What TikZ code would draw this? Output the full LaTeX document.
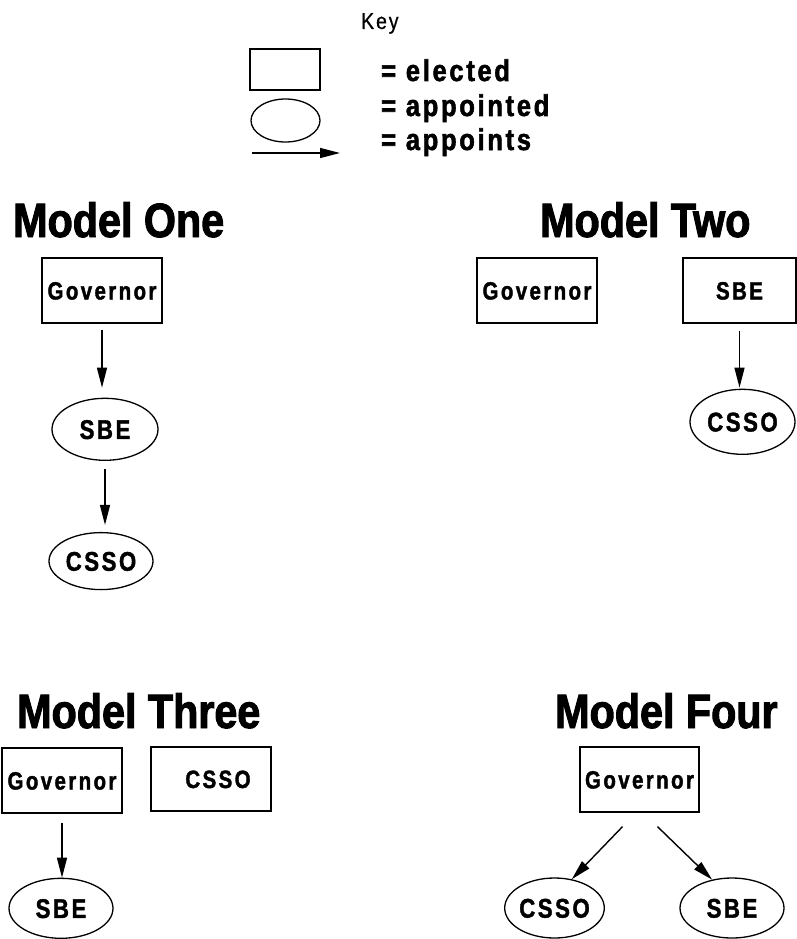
\documentclass[tikz,border=0pt]{standalone}
\usepackage{fontspec}
\setmainfont{Liberation Sans}
\newfontfamily\titlefont{Liberation Sans}[FakeStretch=0.86, FakeBold=2]
\newfontfamily\labelfont{Liberation Sans}[FakeStretch=0.82, FakeBold=1.5, LetterSpace=9.5]
\newfontfamily\keyfont{Liberation Sans}[FakeStretch=0.85, FakeBold=1.8, LetterSpace=9]
\newfontfamily\keyheadfont{Liberation Sans}[FakeStretch=0.85, FakeBold=0.6, LetterSpace=8]
\usepackage{tikz}
\usetikzlibrary{arrows.meta, positioning, shapes.geometric}
\tikzstyle{elected} = [draw, rectangle, line width=1.3pt, inner sep=0pt,
   minimum width=120pt, minimum height=65pt,
   font=\labelfont\bfseries\fontsize{25}{28}\selectfont,
   text height=18pt, text depth=0pt]
\tikzstyle{appointed} = [draw, ellipse, line width=1.3pt, inner sep=0pt,
   minimum width=104pt, minimum height=60pt,
   font=\labelfont\bfseries\fontsize{27}{30}\selectfont,
   text height=19.3pt, text depth=0pt]
\tikzstyle{appoints} = [-{Triangle[length=20pt,width=10pt]}, line width=1.4pt]
\tikzstyle{modelTitle} = [anchor=base west, inner sep=0pt,
   font=\titlefont\bfseries\fontsize{48}{54}\selectfont]
\tikzstyle{keyText} = [anchor=base west, inner sep=0pt,
   font=\keyfont\bfseries\fontsize{30}{33}\selectfont]

\begin{document}
\begin{tikzpicture}[x=1pt, y=-1pt]
  \useasboundingbox (0,0) rectangle (797,939);

  % key
  \node[anchor=base west, inner sep=0pt, font=\keyheadfont\fontsize{23}{25}\selectfont] (keyhead) at (361,29) {Key};
  \node[elected, minimum width=70pt, minimum height=41pt] (keyrect) at (285,69.5) {};
  \node[appointed, minimum width=69pt, minimum height=43pt] (keyoval) at (285.5,120.5) {};
  \coordinate (keyarrowA) at (252,153);
  \coordinate (keyarrowB) at (340,153);
  \draw[appoints] (keyarrowA) -- (keyarrowB);
  \node[keyText] (keyelected) at (381,81) {= elected};
  \node[keyText] (keyappointed) at (381,116) {= appointed};
  \node[keyText] (keyappoints) at (381,150) {= appoints};

  % model one
  \node[modelTitle] (title1) at (13,237) {Model One};
  \node[elected] (gov1) at (102,290.5) {Governor};
  \node[appointed, minimum width=106pt, minimum height=62pt, below=74pt of gov1, xshift=3pt] (sbe1) {SBE};
  \node[appointed, minimum height=57pt, below=71pt of sbe1, xshift=-4pt] (csso1) {CSSO};
  \draw[appoints, shorten <=6pt, shorten >=10pt] (gov1.south) -- (gov1.south |- sbe1.north);
  \draw[appoints, shorten <=8pt, shorten >=7pt] (sbe1.south) -- (sbe1.south |- csso1.north);

  % model two
  \node[modelTitle] (title2) at (540,237) {Model Two};
  \node[elected] (gov2) at (537,290.5) {Governor};
  \node[elected, minimum width=113pt] (sbe2) at (739.5,290.5) {SBE};
  \node[appointed, minimum width=105pt, minimum height=65pt, below=65pt of sbe2, xshift=3pt] (csso2) {CSSO};
  \draw[appoints, shorten <=7pt, shorten >=1pt] (sbe2.south) -- (sbe2.south |- csso2.north);

  % model three
  \node[modelTitle] (title3) at (17,728) {Model Three};
  \node[elected] (gov3) at (62,780.5) {Governor};
  \node[elected, minimum height=64pt] (csso3) at (211,779) {\hspace*{14pt}CSSO};
  \node[appointed, below=64pt of gov3, xshift=-1pt] (sbe3) {SBE};
  \draw[appoints, shorten <=9pt] (gov3.south) -- (gov3.south |- sbe3.north);

  % model four
  \node[modelTitle] (title4) at (555,728) {Model Four};
  \node[elected, minimum width=119pt] (gov4) at (639.5,779.5) {Governor};
  \node[appointed, minimum width=95pt] (csso4) at (554.5,908) {CSSO};
  \node[appointed] (sbe4) at (732,908) {SBE};
  \draw[appoints] ([xshift=-17pt,yshift=-14pt]gov4.south) -- (csso4.59);
  \draw[appoints] ([xshift=18pt,yshift=-14pt]gov4.south) -- (sbe4.125);
\end{tikzpicture}
\end{document}
